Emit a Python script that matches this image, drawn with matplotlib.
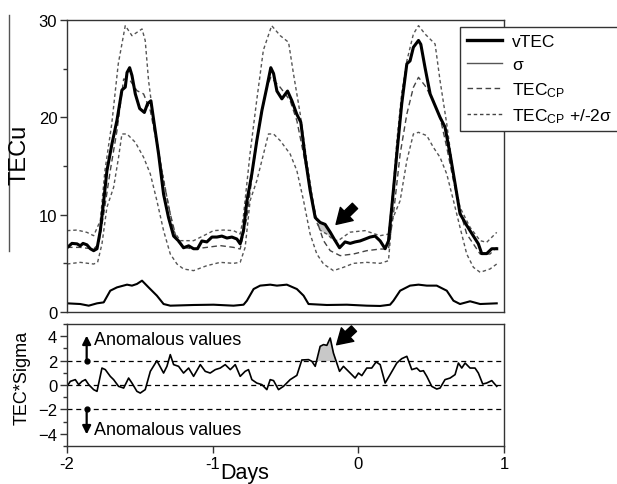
import numpy as np
import matplotlib
matplotlib.use("Agg")
import matplotlib.pyplot as plt
from matplotlib.lines import Line2D
from matplotlib.patches import Rectangle
from matplotlib.ticker import MultipleLocator

plt.rcParams["font.family"] = ["Liberation Sans", "DejaVu Sans"]
plt.rcParams["mathtext.default"] = "regular"

# ---- data (days relative to event, TECu) ----
vtec_days = [-2.000, -1.966, -1.931, -1.909, -1.890, -1.863, -1.840, -1.817, -1.794, -1.771,
             -1.748, -1.726, -1.691, -1.657, -1.623, -1.600, -1.588, -1.570, -1.554, -1.531,
             -1.501, -1.469, -1.447, -1.424, -1.401, -1.371, -1.337, -1.303, -1.268, -1.234,
             -1.200, -1.165, -1.131, -1.104, -1.074, -1.040, -1.005, -0.971, -0.937, -0.902,
             -0.868, -0.834, -0.811, -0.788, -0.765, -0.731, -0.697, -0.662, -0.628, -0.601,
             -0.582, -0.559, -0.525, -0.486, -0.456, -0.422, -0.395, -0.365, -0.331, -0.296,
             -0.262, -0.228, -0.193, -0.166, -0.129, -0.091, -0.056, -0.022, 0.012, 0.047,
             0.081, 0.115, 0.150, 0.184, 0.207, 0.230, 0.264, 0.298, 0.333, 0.355,
             0.378, 0.413, 0.429, 0.458, 0.493, 0.527, 0.561, 0.595, 0.630, 0.664,
             0.698, 0.744, 0.790, 0.824, 0.847, 0.881, 0.916, 0.950]
vtec_vals = [6.6, 7.05, 7.0, 6.8, 7.05, 6.9, 6.5, 6.3, 6.5, 8.4,
             11.4, 14.5, 17.3, 19.7, 22.8, 23.1, 24.6, 25.1, 24.3, 22.4,
             20.9, 20.5, 21.4, 21.7, 19.3, 16.2, 12.1, 9.7, 7.8, 7.3,
             6.6, 6.8, 6.5, 6.5, 7.3, 7.2, 7.7, 7.7, 7.8, 7.6,
             7.7, 7.5, 7.0, 8.4, 11.4, 14.2, 17.6, 20.7, 23.1, 25.1,
             24.5, 22.7, 21.9, 22.7, 21.7, 20.3, 19.5, 15.9, 12.5, 9.7,
             9.2, 9.0, 8.2, 7.5, 6.6, 7.2, 7.05, 7.2, 7.3, 7.5,
             7.7, 7.8, 7.3, 6.5, 7.3, 10.8, 16.2, 21.4, 25.5, 25.8,
             27.2, 27.9, 27.5, 25.1, 22.4, 21.2, 20.0, 19.0, 16.2, 13.2,
             10.1, 8.9, 7.8, 7.0, 6.0, 6.0, 6.5, 6.5]

cp_days = [-2.000, -1.909, -1.817, -1.783, -1.748, -1.703, -1.657, -1.611, -1.566, -1.520,
           -1.474, -1.428, -1.383, -1.337, -1.291, -1.245, -1.200, -1.131, -1.040, -0.948,
           -0.857, -0.811, -0.765, -0.719, -0.674, -0.628, -0.601, -0.536, -0.468, -0.422,
           -0.376, -0.331, -0.285, -0.239, -0.193, -0.125, -0.033, 0.058, 0.150, 0.207,
           0.241, 0.287, 0.333, 0.378, 0.413, 0.458, 0.515, 0.561, 0.607, 0.653,
           0.698, 0.744, 0.790, 0.836, 0.904, 0.950]
cp_vals = [6.64, 6.64, 6.47, 6.99, 10.07, 14.52, 18.63, 23.94, 23.77, 22.74,
           22.40, 20.68, 17.26, 13.49, 10.07, 7.33, 6.64, 6.47, 6.64, 6.82,
           6.64, 6.47, 9.73, 15.21, 19.66, 23.08, 24.11, 23.08, 21.71, 19.66,
           16.23, 12.81, 9.38, 7.33, 6.30, 5.79, 5.96, 6.30, 6.47, 6.47,
           10.07, 16.23, 20.34, 23.08, 24.11, 23.25, 21.71, 20.00, 16.92, 13.49,
           10.41, 8.01, 6.99, 5.96, 5.96, 6.64]

upper_days = [-2.000, -1.931, -1.863, -1.817, -1.771, -1.740, -1.693, -1.648, -1.600, -1.554,
              -1.485, -1.463, -1.440, -1.405, -1.360, -1.314, -1.268, -1.223, -1.131, -1.062,
              -0.994, -0.925, -0.857, -0.811, -0.790, -0.744, -0.698, -0.652, -0.595, -0.536,
              -0.479, -0.445, -0.399, -0.354, -0.308, -0.285, -0.262, -0.216, -0.171, -0.138,
              -0.057, 0.046, 0.149, 0.207, 0.218, 0.241, 0.264, 0.298, 0.333, 0.378,
              0.413, 0.458, 0.527, 0.561, 0.607, 0.653, 0.698, 0.767, 0.836, 0.881, 0.950]
upper_vals = [8.36, 8.42, 8.18, 7.84, 9.40, 14.5, 19.3, 25.5, 29.42, 28.39,
              29.08, 27.88, 23.77, 19.66, 15.55, 11.78, 8.36, 7.33, 7.33, 7.84,
              8.36, 8.42, 8.36, 8.01, 9.70, 16.2, 21.7, 26.9, 29.42, 28.39,
              27.71, 24.45, 20.34, 15.55, 11.0, 9.2, 8.4, 8.0, 7.4, 7.33,
              8.2, 8.36, 7.84, 8.0, 9.5, 13.0, 17.5, 22.5, 25.8, 28.56,
              29.42, 28.56, 27.53, 23.77, 19.32, 14.18, 10.75, 8.70, 7.33, 7.16, 8.18]

lower_days = [-2.000, -1.909, -1.817, -1.790, -1.760, -1.726, -1.680, -1.646, -1.623, -1.588,
              -1.531, -1.474, -1.428, -1.383, -1.337, -1.291, -1.245, -1.200, -1.131, -1.040,
              -0.948, -0.857, -0.811, -0.777, -0.743, -0.697, -0.651, -0.617, -0.582, -0.536,
              -0.468, -0.422, -0.376, -0.331, -0.285, -0.239, -0.171, -0.102, -0.033, 0.058,
              0.150, 0.207, 0.230, 0.287, 0.333, 0.378, 0.413, 0.470, 0.515, 0.561,
              0.607, 0.653, 0.698, 0.744, 0.790, 0.836, 0.904, 0.950]
lower_vals = [4.93, 5.10, 4.93, 5.10, 6.99, 10.75, 12.81, 15.89, 18.29, 18.29,
              17.43, 15.89, 14.18, 11.44, 8.36, 5.96, 4.93, 4.42, 4.25, 4.76,
              5.10, 5.00, 5.10, 6.64, 11.44, 13.49, 16.23, 18.29, 18.29, 17.60,
              16.23, 14.52, 11.44, 8.01, 5.96, 4.93, 4.25, 4.59, 5.00, 5.10,
              5.00, 5.27, 9.38, 11.44, 15.55, 18.29, 18.46, 18.12, 16.92, 15.89,
              14.18, 11.44, 8.70, 5.96, 4.59, 4.08, 4.42, 4.93]

sigma_days = [-2.000, -1.909, -1.851, -1.794, -1.748, -1.703, -1.657, -1.588, -1.554, -1.520,
              -1.485, -1.440, -1.383, -1.337, -1.291, -1.131, -0.994, -0.857, -0.788, -0.765,
              -0.719, -0.674, -0.605, -0.559, -0.491, -0.422, -0.376, -0.342, -0.216, -0.079,
              0.058, 0.150, 0.218, 0.241, 0.287, 0.355, 0.413, 0.470, 0.538, 0.607,
              0.653, 0.698, 0.767, 0.836, 0.950]
sigma_vals = [0.89, 0.82, 0.65, 0.89, 0.99, 2.19, 2.53, 2.81, 2.71, 2.88,
              3.22, 2.53, 1.68, 0.82, 0.65, 0.72, 0.75, 0.65, 0.75, 1.16,
              2.36, 2.71, 2.81, 2.71, 2.81, 2.36, 1.68, 0.82, 0.72, 0.75,
              0.65, 0.62, 0.75, 1.16, 2.19, 2.71, 2.81, 2.71, 2.71, 2.19,
              1.16, 0.82, 1.10, 0.82, 0.89]

ts_days = [-2.000, -1.977, -1.943, -1.920, -1.897, -1.874, -1.851, -1.817, -1.794, -1.760,
           -1.737, -1.703, -1.680, -1.646, -1.611, -1.577, -1.554, -1.520, -1.497, -1.463,
           -1.428, -1.383, -1.337, -1.314, -1.291, -1.268, -1.234, -1.200, -1.165, -1.131,
           -1.085, -1.051, -1.017, -0.982, -0.948, -0.914, -0.879, -0.845, -0.811, -0.777,
           -0.754, -0.731, -0.697, -0.662, -0.628, -0.605, -0.582, -0.548, -0.514, -0.468,
           -0.422, -0.388, -0.342, -0.319, -0.296, -0.262, -0.239, -0.216, -0.193, -0.171,
           -0.129, -0.102, -0.056, -0.022, 0.001, 0.024, 0.058, 0.092, 0.122, 0.150,
           0.184, 0.218, 0.264, 0.298, 0.333, 0.367, 0.401, 0.424, 0.447, 0.470,
           0.504, 0.538, 0.561, 0.595, 0.630, 0.664, 0.687, 0.710, 0.733, 0.767,
           0.801, 0.824, 0.854, 0.881, 0.916, 0.950]
ts_vals = [-0.11, 0.30, 0.44, 0.03, 0.30, 0.44, 0.03, -0.38, -0.52, 1.39,
           1.26, 0.71, 0.44, -0.11, -0.25, 0.57, 0.16, -0.52, -0.66, -0.38,
           1.12, 1.99, 0.98, 1.53, 2.49, 1.67, 1.53, 0.98, 1.39, 0.71,
           1.67, 1.12, 0.98, 1.26, 1.39, 1.67, 1.26, 1.67, 0.71, 1.12,
           1.26, 0.44, 0.16, 0.03, -0.38, 0.44, 0.36, -0.38, -0.11, 0.44,
           0.79, 2.05, 2.08, 1.94, 1.53, 3.17, 3.31, 3.25, 3.85, 2.62,
           1.12, 1.53, 0.98, 0.57, 0.98, 0.77, 1.39, 1.39, 1.89, 1.67,
           0.16, 0.85, 1.80, 2.16, 2.35, 1.26, 1.39, 1.12, 1.17, 0.71,
           -0.11, -0.33, -0.25, 0.44, 0.57, 0.85, 1.80, 1.39, 1.80, 1.39,
           1.39, 0.98, 0.08, 0.16, 0.36, -0.11]

anomaly_window = (-0.30, -0.13)
ts_levels = [2, 0, -2]

W, H = 617, 485
fig = plt.figure(figsize=(W / 100, H / 100), dpi=100)

ax1 = fig.add_axes([67 / W, 1 - 313 / H, 437 / W, 292 / H])
ax2 = fig.add_axes([67 / W, 1 - 447 / H, 437 / W, 122 / H])

dash_cp = (0, (4, 2.5))
dash_bd = (0, (2.5, 2))
gray = "#555555"

# ---- top panel ----
ax1.plot(upper_days, upper_vals, color=gray, lw=1, ls=dash_bd)
ax1.plot(lower_days, lower_vals, color=gray, lw=1, ls=dash_bd)
ax1.plot(cp_days, cp_vals, color="#444444", lw=1, ls=dash_cp)
ax1.plot(sigma_days, sigma_vals, color="black", lw=1.5)
ax1.plot(vtec_days, vtec_vals, color="black", lw=2.2)

xf = np.linspace(anomaly_window[0], anomaly_window[1], 200)
v_i = np.interp(xf, vtec_days, vtec_vals)
u_i = np.interp(xf, upper_days, upper_vals)
ax1.fill_between(xf, u_i, v_i, where=v_i > u_i, interpolate=True,
                 color="#c8c8c8", lw=0, zorder=1)

ax1.annotate("", xy=(-0.153, 9.0), xytext=(-0.023, 10.9),
             arrowprops=dict(arrowstyle="simple,head_width=1.1,head_length=0.9,tail_width=0.45",
                             color="black", mutation_scale=12, shrinkA=0, shrinkB=0))

ax1.set_xlim(-2, 1)
ax1.set_ylim(0, 30)
ax1.set_yticks([0, 10, 20, 30])
ax1.yaxis.set_minor_locator(MultipleLocator(5))
ax1.set_xticks([])

# ---- bottom panel ----
for lv in ts_levels:
    ax2.axhline(lv, color="black", lw=0.9, ls=(0, (4, 3)))
ax2.plot(ts_days, ts_vals, color="black", lw=1.2)

xf2 = np.linspace(anomaly_window[0], anomaly_window[1], 200)
t_i = np.interp(xf2, ts_days, ts_vals)
ax2.fill_between(xf2, 2, t_i, where=t_i > 2, interpolate=True,
                 color="#c8c8c8", lw=0, zorder=1)

ax2.annotate("", xy=(-0.149, 3.3), xytext=(-0.030, 4.62),
             arrowprops=dict(arrowstyle="simple,head_width=1.1,head_length=0.9,tail_width=0.45",
                             color="black", mutation_scale=12, shrinkA=0, shrinkB=0))

for base, tip, ty in [(2, 4.05, 3.7), (-2, -4.05, -3.65)]:
    ax2.plot([-1.865], [base], "o", color="black", ms=3.5)
    ax2.annotate("", xy=(-1.865, tip), xytext=(-1.865, base),
                 arrowprops=dict(arrowstyle="-|>,head_width=0.25,head_length=0.5",
                                 color="black", lw=1.6, shrinkA=0, shrinkB=0))
    ax2.text(-1.815, ty, "Anomalous values", fontsize=13, va="center", ha="left")

ax2.set_xlim(-2, 1)
ax2.set_ylim(-5, 5)
ax2.set_yticks([-4, -2, 0, 2, 4])
ax2.yaxis.set_minor_locator(MultipleLocator(1))
ax2.set_xticks([-2, -1, 0, 1])
ax2.set_xticklabels(["-2", "-1", "0", "1"])

for ax in (ax1, ax2):
    for sp in ax.spines.values():
        sp.set_color("#333333")
        sp.set_linewidth(1)
    ax.tick_params(which="major", direction="out", length=5, width=1, color="#333333",
                   labelsize=12, pad=2)
    ax.tick_params(which="minor", direction="out", length=3, width=1, color="#333333")

# ---- labels ----
fig.text(20 / W, 1 - 155 / H, "TECu", rotation=90, fontsize=17, ha="center", va="center")
fig.text(22 / W, 1 - 378 / H, "TEC*Sigma", rotation=90, fontsize=13, ha="center", va="center")
fig.text(245 / W, 1 - 474 / H, "Days", fontsize=15.5, ha="center", va="center")
fig.add_artist(Line2D([9 / W, 9 / W], [1 - 16 / H, 1 - 252 / H], color="#555555", lw=1))

# legend box runs past the right edge of the picture, as in the original
fig.add_artist(Rectangle((460 / W, 1 - 132 / H), 200 / W, 104 / H, transform=fig.transFigure,
                         facecolor="white", edgecolor="#333333", lw=1, zorder=4))

handles = [Line2D([], [], color="black", lw=2.4),
           Line2D([], [], color=gray, lw=1),
           Line2D([], [], color="#444444", lw=1, ls=dash_cp),
           Line2D([], [], color="#444444", lw=1, ls=dash_bd)]
labels = ["vTEC", "σ", "TEC$_{CP}$", "TEC$_{CP}$ +/-2σ"]
leg = fig.legend(handles, labels, loc="upper left", bbox_to_anchor=(460 / W, 1 - 28 / H),
                 frameon=False, fontsize=12.5, handlelength=2.0, handletextpad=0.6,
                 labelspacing=0.45, borderpad=0.4, borderaxespad=0)
leg.set_zorder(5)

fig.savefig("out.png", dpi=100)
